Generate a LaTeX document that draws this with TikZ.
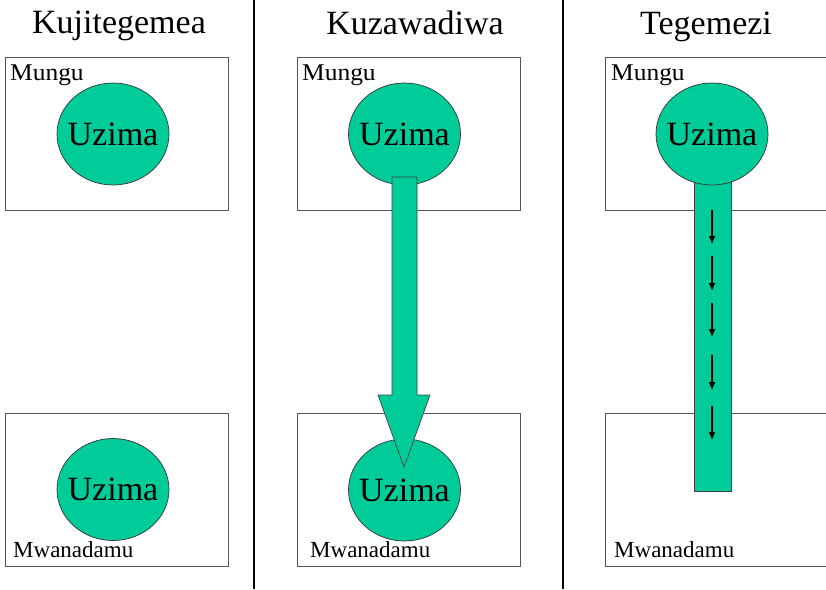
\documentclass[tikz,border=0pt]{standalone}
\usepackage{fontspec}
\setmainfont{Liberation Serif}
\usetikzlibrary{shapes.geometric,arrows.meta}
\definecolor{uz}{HTML}{00CC99}
\definecolor{edge}{HTML}{555555}
\begin{document}
\begin{tikzpicture}[x=1pt,y=-1pt,
  box/.style={draw=edge,line width=0.9pt,rectangle,inner sep=0pt,minimum height=153pt,minimum width=#1},
  uzima/.style={ellipse,draw=black!80,line width=0.7pt,fill=uz,inner sep=0pt,minimum width=112pt,minimum height=102pt,
    label={[inner sep=0pt,font=\fontsize{34}{36}\selectfont]center:Uzima}},
  uzshape/.style={draw=black!75,line width=0.7pt,fill=uz},
  title/.style={anchor=base,inner sep=0pt,font=\fontsize{34}{36}\selectfont},
  lbl/.style={anchor=base west,inner sep=0pt,font=\fontsize{24}{26}\selectfont},
  divider/.style={line width=2.4pt,black},
  flow/.style={line width=1.2pt,-{Latex[length=8pt,width=7pt]}}]
\path[use as bounding box] (0,0) rectangle (826,589);
\clip (0,0) rectangle (826,589);
\fill[white] (0,0) rectangle (826,589);

% dividers
\coordinate (d1t) at (254,0); \coordinate (d1b) at (254,589);
\coordinate (d2t) at (563,0); \coordinate (d2b) at (563,589);
\draw[divider] (d1t) -- (d1b);
\draw[divider] (d2t) -- (d2b);

% titles
\node[title] (t1) at (119,33) {Kujitegemea};
\node[title] (t2) at (415,34) {Kuzawadiwa};
\node[title] (t3) at (706,34) {Tegemezi};

% boxes
\node[box=223pt] (b1t) at (116.5,133.5) {};
\node[box=223pt] (b1b) at (117,489.5) {};
\node[box=223pt] (b2t) at (408.5,134) {};
\node[box=223pt] (b2b) at (408.5,489.5) {};
\node[box=225pt] (b3t) at (717.5,134) {};
\node[box=225pt] (b3b) at (717.5,490) {};

% column 3 shaft (under the circle)
\coordinate (s3t) at (694,165);
\coordinate (s3b) at (731,491);
\draw[uzshape] (s3t) rectangle (s3b);

% circles
\node[uzima] (u1t) at (113,134) {};
\node[uzima] (u1b) at (113,489.5) {};
\node[uzima] (u2t) at (404.5,134) {};
\node[uzima] (u2b) at (404.5,490) {};
\node[uzima] (u3t) at (712,134) {};

% column 2 block arrow
\coordinate (a2) at (404,467);
\draw[uzshape,line join=miter] (392,177) -- (417,177) -- (417,395) -- (430,395) -- (a2) -- (378,395) -- (392,395) -- cycle;

% column 3 small arrows
\foreach \i/\ya/\yb in {1/210/244,2/256/291,3/303/337,4/355/390,5/406/440}{
  \coordinate (f\i a) at (712,\ya);
  \coordinate (f\i b) at (712,\yb);
  \draw[flow] (f\i a) -- (f\i b);
}

% labels
\node[lbl] (m1) at (10,80) {\scalebox{1.06}[1]{Mungu}};
\node[lbl] (m2) at (302,80) {\scalebox{1.06}[1]{Mungu}};
\node[lbl] (m3) at (611,80) {\scalebox{1.06}[1]{Mungu}};
\node[lbl,font=\fontsize{23}{25}\selectfont] (w1) at (13,557) {Mwanadamu};
\node[lbl,font=\fontsize{23}{25}\selectfont] (w2) at (310,557) {Mwanadamu};
\node[lbl,font=\fontsize{23}{25}\selectfont] (w3) at (614,557) {Mwanadamu};
\end{tikzpicture}
\end{document}
